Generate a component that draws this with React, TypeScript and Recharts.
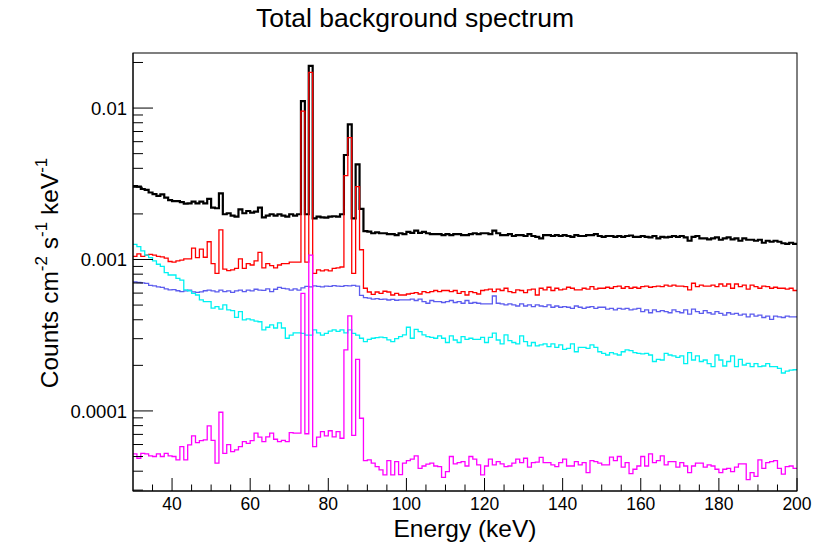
import React from 'react';
import { LineChart, Line, XAxis, YAxis } from 'recharts';

// Total background spectrum, 1 keV bins from 30 to 200 keV.
// Bin contents are in units of 1e-6 counts cm^-2 s^-1 keV^-1.
const E_MIN = 30;
const E_MAX = 200;
const BIN_WIDTH = 1;

const TOTAL = [
  3050, 3030, 2920, 2880, 2770, 2700, 2630, 2690, 2560, 2470,
  2430, 2430, 2390, 2340, 2350, 2410, 2350, 2410, 2350, 2510,
  2200, 2180, 2730, 1990, 2020, 1950, 1920, 2140, 2020, 2090,
  2040, 2070, 2200, 1900, 1950, 1990, 1950, 1990, 1950, 1920,
  1990, 1950, 1990, 11100, 1990, 19000, 1870, 1920, 1900, 1890,
  1920, 1930, 1920, 1990, 4900, 7800, 1870, 4250, 2160, 1540,
  1530, 1490, 1510, 1490, 1490, 1470, 1470, 1450, 1490, 1470,
  1520, 1500, 1550, 1500, 1520, 1490, 1470, 1470, 1470, 1450,
  1470, 1450, 1470, 1470, 1450, 1450, 1470, 1490, 1470, 1490,
  1490, 1470, 1550, 1490, 1450, 1450, 1470, 1430, 1450, 1450,
  1430, 1470, 1430, 1410, 1380, 1450, 1450, 1430, 1450, 1430,
  1450, 1430, 1410, 1450, 1430, 1430, 1450, 1450, 1470, 1430,
  1410, 1430, 1430, 1410, 1430, 1410, 1430, 1440, 1410, 1410,
  1430, 1410, 1400, 1430, 1380, 1410, 1400, 1410, 1430, 1410,
  1430, 1400, 1330, 1410, 1430, 1380, 1380, 1360, 1380, 1400,
  1350, 1380, 1400, 1360, 1380, 1330, 1380, 1350, 1350, 1330,
  1350, 1290, 1330, 1310, 1330, 1310, 1280, 1270, 1290, 1270,
];

const RED = [
  1050, 1090, 1050, 1070, 1080, 1070, 1050, 1040, 1020, 970,
  960, 980, 990, 1010, 1010, 1190, 1030, 1170, 1035, 1310,
  940, 810, 1570, 865, 845, 855, 875, 1010, 875, 940,
  920, 980, 1115, 880, 940, 910, 880, 920, 940, 940,
  960, 960, 960, 9550, 960, 17200, 810, 853, 840, 853,
  840, 875, 880, 892, 3580, 6370, 810, 3030, 1160, 646,
  610, 589, 610, 597, 617, 610, 583, 597, 583, 583,
  592, 598, 604, 592, 614, 604, 614, 624, 614, 624,
  624, 614, 624, 598, 614, 583, 614, 604, 592, 624,
  630, 637, 614, 637, 624, 646, 614, 604, 630, 624,
  604, 630, 637, 583, 646, 630, 656, 624, 646, 630,
  637, 656, 646, 630, 630, 646, 637, 663, 637, 646,
  646, 656, 646, 663, 668, 646, 663, 646, 656, 646,
  663, 668, 656, 663, 668, 663, 678, 668, 678, 668,
  668, 663, 630, 697, 663, 678, 668, 668, 678, 663,
  689, 668, 689, 646, 689, 663, 678, 637, 678, 663,
  646, 668, 663, 646, 656, 646, 646, 637, 646, 624,
];

const BLUE = [
  710, 705, 700, 695, 675, 670, 660, 655, 640, 630,
  632, 622, 614, 620, 628, 612, 606, 612, 622, 628,
  620, 612, 628, 614, 620, 606, 620, 628, 614, 628,
  620, 636, 628, 626, 640, 614, 636, 655, 645, 640,
  628, 640, 628, 650, 665, 660, 670, 665, 660, 668,
  665, 672, 668, 665, 672, 670, 675, 668, 580, 560,
  555, 548, 552, 545, 548, 540, 545, 538, 542, 541,
  541, 547, 536, 547, 527, 514, 536, 527, 527, 520,
  527, 536, 520, 527, 514, 536, 514, 520, 514, 509,
  509, 509, 574, 514, 509, 501, 509, 501, 493, 509,
  493, 501, 488, 501, 493, 488, 501, 484, 493, 484,
  488, 484, 476, 493, 484, 476, 484, 488, 476, 484,
  484, 470, 476, 465, 476, 470, 476, 465, 470, 476,
  452, 465, 445, 465, 452, 460, 452, 445, 465, 452,
  445, 465, 436, 470, 452, 441, 460, 445, 436, 452,
  441, 429, 445, 436, 441, 429, 436, 418, 436, 423,
  429, 414, 423, 402, 423, 418, 414, 423, 418, 418,
];

const CYAN = [
  1260, 1215, 1140, 1070, 1030, 980, 930, 900, 820, 790,
  790, 750, 730, 630, 620, 598, 583, 541, 527, 527,
  477, 488, 470, 501, 465, 460, 415, 452, 399, 405,
  399, 392, 388, 343, 357, 370, 353, 382, 353, 302,
  317, 328, 328, 325, 317, 317, 343, 328, 317, 325,
  337, 343, 335, 343, 328, 343, 325, 317, 302, 287,
  297, 302, 305, 307, 305, 295, 287, 300, 310, 318,
  357, 302, 346, 334, 318, 310, 306, 302, 313, 302,
  283, 313, 294, 283, 310, 297, 302, 297, 297, 306,
  283, 306, 326, 294, 277, 318, 291, 283, 277, 313,
  287, 269, 283, 269, 273, 277, 266, 277, 263, 273,
  255, 259, 277, 246, 263, 263, 259, 273, 263, 246,
  240, 234, 243, 238, 234, 246, 253, 250, 243, 240,
  238, 240, 234, 212, 219, 217, 240, 234, 231, 226,
  231, 205, 243, 217, 231, 212, 217, 205, 196, 234,
  217, 198, 212, 231, 196, 219, 201, 206, 196, 205,
  196, 198, 205, 196, 196, 191, 178, 183, 186, 187,
];

const MAGENTA = [
  52, 48.7, 52.5, 52, 50.5, 50, 52, 50, 52.5, 50.5,
  50, 47.5, 58.2, 47.5, 59.7, 68.4, 61.8, 63.7, 64.4, 79.6,
  64, 45.2, 98, 52.5, 60, 53.9, 55.3, 58.2, 62.7, 61,
  63.7, 71.3, 67.1, 62.7, 67.5, 71.3, 65, 62.7, 64, 62.7,
  72, 71.3, 71.3, 598, 70.7, 1070, 58.2, 67.1, 73, 68.4,
  74, 67.5, 73, 66, 253, 424, 69, 219, 89.5, 47,
  47.5, 45.2, 42.9, 40.8, 37.8, 47, 37.8, 46.3, 38, 45.2,
  47, 48, 50.5, 41.8, 43.3, 44.5, 45.2, 43.3, 42.9, 36.4,
  39.7, 50, 44.7, 45.6, 46.3, 43.3, 50, 48, 44, 37.8,
  43.3, 48, 44, 46.3, 44.7, 42.9, 43.3, 45.2, 48, 45.6,
  48.7, 42.5, 45.6, 45.9, 49.3, 45.6, 45.6, 44, 42.9, 45.6,
  48, 43.3, 43.3, 46.3, 44, 45.6, 39.1, 47, 46.3, 45.2,
  44, 44, 49.5, 47, 50, 42.5, 45.6, 38.6, 41.2, 43.3,
  50, 43.3, 52, 45.6, 47, 50.5, 44, 46.3, 46.3, 42.5,
  45.6, 43.3, 39.1, 43.3, 45.2, 45.2, 42.5, 44, 43.3, 41.2,
  39.1, 41.2, 41.8, 39.7, 42.5, 44.7, 44.7, 35.2, 39.1, 37,
  47.5, 41.8, 45.6, 46.3, 47, 41.8, 38.3, 42.9, 43.3, 41.8,
];

const SERIES = [
  { key: 'total', values: TOTAL, color: '#000000', width: 2.2 },
  { key: 'red', values: RED, color: '#ff0000', width: 1.3 },
  { key: 'blue', values: BLUE, color: '#5c5cee', width: 1.3 },
  { key: 'cyan', values: CYAN, color: '#00f2f2', width: 1.3 },
  { key: 'magenta', values: MAGENTA, color: '#ff00ff', width: 1.3 },
];

const X_TICKS = [35, 40, 45, 50, 55, 60, 65, 70, 75, 80, 85, 90, 95, 100, 105, 110, 115, 120, 125, 130, 135, 140, 145, 150, 155, 160, 165, 170, 175, 180, 185, 190, 195, 200];
const Y_TICKS = [
  3e-5, 4e-5, 5e-5, 6e-5, 7e-5, 8e-5, 9e-5,
  1e-4, 2e-4, 3e-4, 4e-4, 5e-4, 6e-4, 7e-4, 8e-4, 9e-4,
  1e-3, 2e-3, 3e-3, 4e-3, 5e-3, 6e-3, 7e-3, 8e-3, 9e-3,
  1e-2, 2e-2,
];
const Y_DOMAIN = [2.96e-5, 0.0231];

const W = 830;
const H = 549;
const MARGIN = { top: 53, right: 33, bottom: 0, left: 0 };
const Y_AXIS_W = 133;
const X_AXIS_H = 58;
const PLOT_LEFT = MARGIN.left + Y_AXIS_W;
const PLOT_RIGHT = W - MARGIN.right;
const PLOT_TOP = MARGIN.top;
const PLOT_BOTTOM = H - MARGIN.bottom - X_AXIS_H;
const FONT = '"Liberation Sans", Arial, Helvetica, sans-serif';

// step histogram rows: one per bin low edge, plus the closing edge at E_MAX
const data = TOTAL.map((_, i) => {
  const row: Record<string, number> = { e: E_MIN + i * BIN_WIDTH };
  SERIES.forEach(s => { row[s.key] = s.values[i] * 1e-6; });
  return row;
});
const closing: Record<string, number> = { e: E_MAX };
SERIES.forEach(s => { closing[s.key] = s.values[s.values.length - 1] * 1e-6; });
data.push(closing);

const YTick = (props: any) => {
  const { y, payload } = props;
  const lg = Math.log10(payload.value);
  const major = Math.abs(lg - Math.round(lg)) < 1e-6;
  return (
    <g>
      <line x1={PLOT_LEFT} x2={PLOT_LEFT + (major ? 20 : 10)} y1={y} y2={y} stroke="#000" strokeWidth={1} />
      {major && (
        <text x={PLOT_LEFT - 6} y={y} dy="0.36em" textAnchor="end" fontSize={18.5} fontFamily={FONT} fill="#000">
          {String(payload.value)}
        </text>
      )}
    </g>
  );
};

const XTick = (props: any) => {
  const { x, payload } = props;
  const major = payload.value % 20 === 0;
  return (
    <g>
      <line x1={x} x2={x} y1={PLOT_BOTTOM} y2={PLOT_BOTTOM - (major ? 13 : 6.5)} stroke="#000" strokeWidth={1} />
      {major && (
        <text x={x} y={PLOT_BOTTOM + 19} textAnchor="middle" fontSize={17.5} fontFamily={FONT} fill="#000">
          {payload.value}
        </text>
      )}
    </g>
  );
};

export default function App() {
  return (
    <div style={{ position: 'absolute', left: 0, top: 0, width: W, height: H, background: '#fff' }}>
      <LineChart width={W} height={H} data={data} margin={MARGIN}>
        <XAxis
          dataKey="e"
          type="number"
          domain={[E_MIN, E_MAX]}
          allowDataOverflow
          ticks={X_TICKS}
          interval={0}
          height={X_AXIS_H}
          tickLine={false}
          axisLine={{ stroke: '#000', strokeWidth: 1 }}
          tick={<XTick />}
        />
        <YAxis
          scale="log"
          type="number"
          domain={Y_DOMAIN}
          allowDataOverflow
          ticks={Y_TICKS}
          interval={0}
          width={Y_AXIS_W}
          tickLine={false}
          axisLine={{ stroke: '#000', strokeWidth: 1 }}
          tick={<YTick />}
        />
        {SERIES.map(s => (
          <Line
            key={s.key}
            dataKey={s.key}
            type="stepAfter"
            stroke={s.color}
            strokeWidth={s.width}
            strokeLinejoin="miter"
            dot={false}
            activeDot={false}
            isAnimationActive={false}
          />
        ))}
      </LineChart>
      <svg width={W} height={H} style={{ position: 'absolute', left: 0, top: 0, pointerEvents: 'none' }}>
        {/* frame around the plot area */}
        <rect
          x={PLOT_LEFT}
          y={PLOT_TOP}
          width={PLOT_RIGHT - PLOT_LEFT}
          height={PLOT_BOTTOM - PLOT_TOP}
          fill="none"
          stroke="#000"
          strokeWidth={1}
        />
        <text x={415} y={27} textAnchor="middle" fontSize={26.5} fontFamily={FONT} fill="#000">
          Total background spectrum
        </text>
        <text x={465} y={537} textAnchor="middle" fontSize={24.5} fontFamily={FONT} fill="#000">
          Energy (keV)
        </text>
        <text transform="translate(58,273) rotate(-90)" textAnchor="middle" fontSize={24.5} fontFamily={FONT} fill="#000">
          Counts cm
          <tspan dy={-11} fontSize={17}>-2</tspan>
          <tspan dy={11}> s</tspan>
          <tspan dy={-11} fontSize={17}>-1</tspan>
          <tspan dy={11}> keV</tspan>
          <tspan dy={-11} fontSize={17}>-1</tspan>
        </text>
      </svg>
    </div>
  );
}
